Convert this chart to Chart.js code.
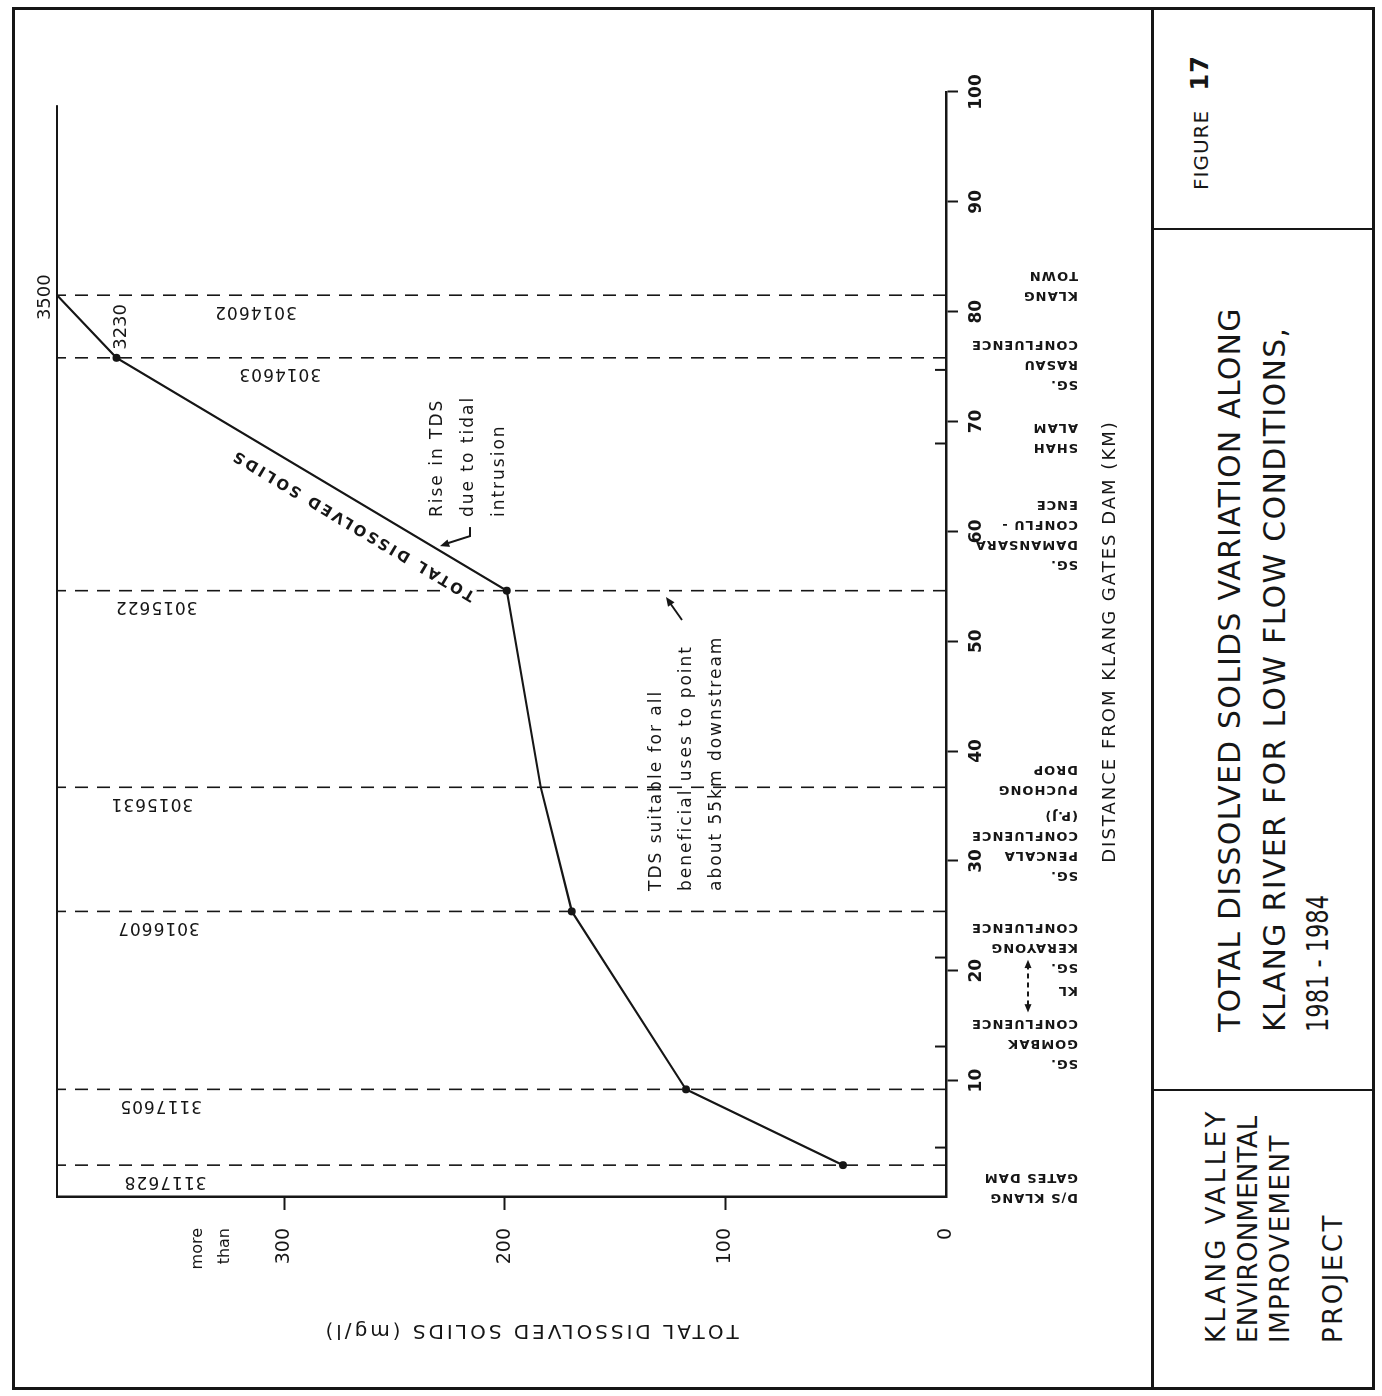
<!DOCTYPE html>
<html>
<head>
<meta charset="utf-8">
<title>Total dissolved solids along Klang River</title>
<script src="https://cdn.jsdelivr.net/npm/chart.js@4.4.1/dist/chart.umd.min.js"></script>
<style>
  html, body { margin: 0; padding: 0; background: #fff; overflow: hidden; }
  /* the sheet is drawn upright, then turned a quarter left like the scan */
  #page {
    position: absolute; left: 0; top: 0; width: 1396px; height: 1382px;
    transform-origin: 0 0; transform: translate(0, 1396px) rotate(-90deg);
    background: #fff; color: #161616; font-family: "DejaVu Sans", sans-serif;
  }
  #tds { position: absolute; left: 0; top: 0; }
  .rule { position: absolute; background: #161616; }
  .txt { position: absolute; white-space: nowrap; }
</style>
</head>
<body>
<div id="page">
  <canvas id="tds" width="1396" height="1150"></canvas>

  <!-- frame and title block -->
  <div class="rule" style="left:6px;top:12px;width:1383px;height:3px"></div>
  <div class="rule" style="left:6px;top:1372px;width:1383px;height:3px"></div>
  <div class="rule" style="left:6px;top:12px;width:3px;height:1363px"></div>
  <div class="rule" style="left:1386px;top:12px;width:3px;height:1363px"></div>
  <div class="rule" style="left:6px;top:1151px;width:1383px;height:3px"></div>
  <div class="rule" style="left:305px;top:1152px;width:2px;height:222px"></div>
  <div class="rule" style="left:1166px;top:1152px;width:2px;height:222px"></div>

  <div class="txt" style="left:53px;top:1201px;font-size:26px;line-height:30px;letter-spacing:3.5px">KLANG VALLEY</div>
  <div class="txt" style="left:53px;top:1233px;font-size:26px;line-height:30px;letter-spacing:0.3px">ENVIRONMENTAL</div>
  <div class="txt" style="left:53px;top:1265px;font-size:26px;line-height:30px;letter-spacing:1.5px">IMPROVEMENT</div>
  <div class="txt" style="left:53px;top:1318px;font-size:26px;line-height:30px;letter-spacing:2.5px">PROJECT</div>

  <div class="txt" style="left:364px;top:1213px;font-size:30px;line-height:34px;letter-spacing:1.2px">TOTAL DISSOLVED SOLIDS VARIATION ALONG</div>
  <div class="txt" style="left:364px;top:1258px;font-size:30px;line-height:34px;letter-spacing:1.3px">KLANG RIVER FOR LOW FLOW CONDITIONS,</div>
  <div class="txt" style="left:364px;top:1301px;font-size:30px;line-height:34px;transform:scaleX(0.75);transform-origin:0 0">1981 - 1984</div>

  <div class="txt" style="left:1206px;top:1188px;font-size:20px;line-height:24px;letter-spacing:1px">FIGURE <b style="font-size:24px;margin-left:12px">17</b></div>
</div>

<script>
    const ink = '#161616';

    // --- DATOS: estaciones de muestreo a lo largo del río ---
    const stationIds = ['3117628', '3117605', '3016607', '3015631', '3015622', '3014603', '3014602'];
    const stationKm = [2.3, 9.2, 25.4, 36.7, 54.6, 75.8, 81.5];
    // TDS as placed on the drawn (broken) axis; the last two sit above the break
    const tdsPlotted = [46.7, 117.9, 169.6, 183.7, 199.1, 376, 403];
    const tdsValueLabels = ['', '', '', '', '', '3230', '3500'];
    const stationHasMarker = [true, true, true, false, true, true, false];

    const distanceTicks = [10, 20, 30, 40, 50, 60, 70, 80, 90, 100];
    const tdsTicks = [0, 100, 200, 300];

    // --- DATOS: lugares bajo el eje de distancia ---
    const locationNames = [
        ['D/S KLANG', 'GATES DAM'],
        ['SG.', 'GOMBAK', 'CONFLUENCE'],
        ['KL'],
        ['SG.', 'KERAYONG', 'CONFLUENCE'],
        ['SG.', 'PENCALA', 'CONFLUENCE', '(P.J)'],
        ['PUCHONG', 'DROP'],
        ['SG.', 'DAMANSARA', 'CONFLU -', 'ENCE'],
        ['SHAH', 'ALAM'],
        ['SG.', 'RASAU', 'CONFLUENCE'],
        ['KLANG', 'TOWN']
    ];
    const locationKm = [0.3, 13.4, 18.25, 22.1, 31.4, 37.4, 59.7, 68.55, 75.2, 82.4];
    const locationMarkKm = [3.9, 13.1, 21.2, 68.0, 74.7];
    const klStretchKm = [16.2, 21.0];

    const riseNote = ['Rise in TDS', 'due to tidal', 'intrusion'];
    const suitableNote = ['TDS suitable for all', 'beneficial uses to point', 'about 55km downstream'];

    // --- LAYOUT de textos ---
    const stationLabelLevel = [354, 356, 357, 360, 358, 302, 313];
    const valueLabelPlacement = {
        5: { dx: 8, dy: 5, align: 'left' },
        6: { dx: -2, dy: -12, align: 'center' }
    };
    const font = (size, weight) => `${weight || 'normal'} ${size}px "DejaVu Sans", sans-serif`;

    function drawText(ctx, str, x, y, o) {
        ctx.save();
        ctx.translate(x, y);
        ctx.rotate(o.angle || 0);
        ctx.font = o.font;
        ctx.letterSpacing = o.spacing || '0px';
        ctx.textAlign = o.align || 'left';
        ctx.textBaseline = 'middle';
        if (o.halo) {
            ctx.strokeStyle = '#fff';
            ctx.lineWidth = o.halo;
            ctx.strokeText(str, 0, 0);
        }
        ctx.fillStyle = ink;
        ctx.fillText(str, 0, 0);
        ctx.restore();
    }

    function strokeLine(ctx, x0, y0, x1, y1) {
        ctx.beginPath();
        ctx.moveTo(x0, y0);
        ctx.lineTo(x1, y1);
        ctx.stroke();
    }

    function arrowHead(ctx, x, y, fromX, fromY, size) {
        const a = Math.atan2(y - fromY, x - fromX);
        ctx.beginPath();
        ctx.moveTo(x, y);
        ctx.lineTo(x - size * Math.cos(a - 0.4), y - size * Math.sin(a - 0.4));
        ctx.lineTo(x - size * Math.cos(a + 0.4), y - size * Math.sin(a + 0.4));
        ctx.closePath();
        ctx.fill();
    }

    const sheetMarks = {
        id: 'sheetMarks',
        beforeDatasetsDraw(chart) {
            const { ctx, chartArea: a, scales: { x } } = chart;
            ctx.save();
            ctx.strokeStyle = ink;
            ctx.lineWidth = 1.6;
            ctx.setLineDash([13, 9]);
            stationKm.forEach(km => {
                const px = x.getPixelForValue(km);
                strokeLine(ctx, px, a.bottom, px, a.top);
            });
            ctx.setLineDash([]);
            ctx.lineWidth = 2;
            strokeLine(ctx, a.left, a.top, x.getPixelForValue(98.8), a.top);
            locationMarkKm.forEach(km => {
                const px = x.getPixelForValue(km);
                strokeLine(ctx, px, a.bottom, px, a.bottom - 11);
            });
            ctx.restore();
        },
        afterDraw(chart) {
            const { ctx, chartArea: a, scales: { x, y } } = chart;
            const pts = chart.getDatasetMeta(0).data;
            ctx.save();
            ctx.strokeStyle = ink;
            ctx.fillStyle = ink;

            // números de estación junto a las líneas discontinuas
            stationIds.forEach((id, i) => {
                drawText(ctx, id, x.getPixelForValue(stationKm[i]) - 16, y.getPixelForValue(stationLabelLevel[i]),
                    { font: font(17), spacing: '1px', align: 'center', angle: -Math.PI / 2 });
            });

            tdsValueLabels.forEach((lab, i) => {
                if (!lab) return;
                const p = valueLabelPlacement[i];
                drawText(ctx, lab, pts[i].x + p.dx, pts[i].y + p.dy, { font: font(18), align: p.align });
            });

            // rótulo a lo largo de la curva
            const p = pts[4], q = pts[5];
            const dx = q.x - p.x, dy = q.y - p.y, len = Math.hypot(dx, dy);
            const ux = dx / len, uy = dy / len;
            const t = 0.364 * len;
            drawText(ctx, 'TOTAL DISSOLVED SOLIDS', p.x + ux * t + uy * 22, p.y + uy * t - ux * 22,
                { font: font(15, 'bold'), spacing: '2.8px', align: 'center', angle: Math.atan2(dy, dx), halo: 6 });

            // notas
            const rx = x.getPixelForValue(61.3), ry = y.getPixelForValue(230.7);
            riseNote.forEach((s, i) => drawText(ctx, s, rx, ry + i * 31, { font: font(17), spacing: '2px' }));
            ctx.lineWidth = 2;
            ctx.beginPath();
            ctx.moveTo(rx - 10, ry + 33);
            ctx.lineTo(rx - 19, ry + 33);
            ctx.lineTo(rx - 26, ry + 11);
            ctx.stroke();
            arrowHead(ctx, rx - 29, ry + 3, rx - 19, ry + 33, 10);

            const sx = x.getPixelForValue(27.26), sy = y.getPixelForValue(131.0);
            suitableNote.forEach((s, i) => drawText(ctx, s, sx, sy + i * 30, { font: font(17), spacing: '2px' }));
            strokeLine(ctx, sx + 271, sy + 25, sx + 288, sy + 13);
            arrowHead(ctx, sx + 294, sy + 9, sx + 271, sy + 25, 10);

            // lugares bajo el eje
            locationNames.forEach((lines, i) => {
                const uc = x.getPixelForValue(locationKm[i]);
                lines.forEach((s, j) => {
                    const u = uc + (j - (lines.length - 1) / 2) * 20;
                    drawText(ctx, s, u, a.bottom + 132, { font: font(13, 'bold'), spacing: '1px', angle: -Math.PI / 2 });
                });
            });
            const k0 = x.getPixelForValue(klStretchKm[0]), k1 = x.getPixelForValue(klStretchKm[1]);
            const kv = a.bottom + 82;
            ctx.lineWidth = 2;
            ctx.setLineDash([5, 4]);
            strokeLine(ctx, k0 + 7, kv, k1 - 7, kv);
            ctx.setLineDash([]);
            arrowHead(ctx, k0, kv, k0 + 10, kv, 9);
            arrowHead(ctx, k1, kv, k1 - 10, kv, 9);

            // títulos de ejes
            drawText(ctx, 'DISTANCE FROM KLANG GATES DAM (KM)', (a.left + a.right) / 2 + 3, a.bottom + 164,
                { font: font(18), spacing: '2px', align: 'center' });
            drawText(ctx, 'TOTAL DISSOLVED SOLIDS (mg/l)', a.left - 133, (a.top + a.bottom) / 2 + 29,
                { font: font(20), spacing: '3px', align: 'center', angle: -Math.PI / 2 });
            drawText(ctx, 'more', a.left - 31, y.getPixelForValue(339), { font: font(16), align: 'right' });
            drawText(ctx, 'than', a.left - 31, y.getPixelForValue(327), { font: font(16), align: 'right' });
            ctx.restore();
        }
    };

    new Chart(document.getElementById('tds'), {
        type: 'line',
        data: {
            datasets: [{
                data: stationKm.map((km, i) => ({ x: km, y: tdsPlotted[i] })),
                borderColor: ink,
                borderWidth: 2.2,
                tension: 0,
                pointRadius: stationHasMarker.map(m => (m ? 4 : 0)),
                pointBackgroundColor: ink,
                pointBorderWidth: 0,
                clip: false
            }]
        },
        options: {
            responsive: false,
            animation: false,
            layout: { padding: { left: 0, right: 92, top: 57, bottom: 0 } },
            plugins: { legend: { display: false }, tooltip: { enabled: false } },
            scales: {
                x: {
                    type: 'linear', min: -0.6, max: 100, position: 'bottom',
                    afterBuildTicks: s => { s.ticks = distanceTicks.map(v => ({ value: v })); },
                    afterFit: s => { s.height = 204; },
                    border: { display: true, color: ink, width: 2.5 },
                    grid: { drawOnChartArea: false, tickLength: 12, tickWidth: 2, tickColor: ink },
                    ticks: { color: ink, font: { family: 'DejaVu Sans', size: 17, weight: 'bold' }, padding: 8, maxRotation: 0, autoSkip: false }
                },
                y: {
                    type: 'linear', min: 0, max: 403, position: 'left',
                    afterBuildTicks: s => { s.ticks = tdsTicks.map(v => ({ value: v })); },
                    afterFit: s => { s.width = 199; },
                    border: { display: true, color: ink, width: 2.5 },
                    grid: {
                        drawOnChartArea: false, tickLength: 13, tickWidth: 2,
                        tickColor: c => (c.tick && c.tick.value === 0 ? 'rgba(0,0,0,0)' : ink)
                    },
                    ticks: { color: ink, font: { family: 'DejaVu Sans', size: 19 }, padding: 18, autoSkip: false }
                }
            }
        },
        plugins: [sheetMarks]
    });
</script>
</body>
</html>
